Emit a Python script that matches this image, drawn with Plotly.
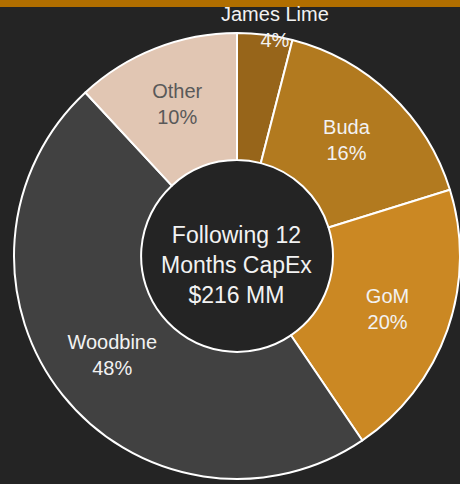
import plotly.graph_objects as go

# segmentos del capex (sentido horario desde las 12)
segments = ['James Lime', 'Buda', 'GoM', 'Woodbine', 'Other']
shares = [4.0, 16.2, 20.3, 47.6, 11.9]
pct_labels = ['4%', '16%', '20%', '48%', '10%']
colors = ['#97651a', '#b27a1f', '#cb8823', '#414141', '#e1c6b3']
text_colors = ['#f2f2f2', '#f2f2f2', '#f2f2f2', '#f2f2f2', '#595959']
center_lines = ['Following 12', 'Months CapEx', '$216 MM']

FONT = 'Arial, Liberation Sans, sans-serif'
BG = '#242424'

slice_text = [f'{s}<br>{p}' for s, p in zip(segments, pct_labels)]
# James Lime va como anotacion arriba, el trozo es muy chico
positions = ['none'] + ['inside'] * (len(segments) - 1)

fig = go.Figure()
fig.add_trace(go.Pie(
    labels=segments,
    values=shares,
    text=slice_text,
    textinfo='text',
    textposition=positions,
    insidetextorientation='horizontal',
    insidetextfont=dict(family=FONT, size=20, color=text_colors),
    sort=False,
    direction='clockwise',
    hole=0.43,
    marker=dict(colors=colors, line=dict(color='#ffffff', width=2)),
    showlegend=False,
    hoverinfo='label+percent',
))

fig.add_annotation(
    text=slice_text[0], x=0.585, y=1.006, xref='paper', yref='paper',
    xanchor='center', yanchor='middle', showarrow=False,
    font=dict(family=FONT, size=20, color=text_colors[0]),
)
fig.add_annotation(
    text='<br>'.join(center_lines), x=0.498, y=0.48, xref='paper', yref='paper',
    xanchor='center', yanchor='middle', showarrow=False,
    font=dict(family=FONT, size=23, color='#f2f2f2'),
)

# barra naranja de arriba
fig.add_shape(
    type='rect', xref='paper', yref='paper',
    xsizemode='pixel', ysizemode='pixel', xanchor=0, yanchor=1,
    x0=-14, x1=446, y0=23, y1=30,
    fillcolor='#b06e00', line=dict(width=0), layer='above',
)

fig.update_layout(
    width=460,
    height=484,
    margin=dict(l=14, r=0, t=30, b=2),
    paper_bgcolor=BG,
    plot_bgcolor=BG,
    font=dict(family=FONT),
)

# sin el margen blanco del body
fig.write_html('out.html', config={'displayModeBar': False},
               post_script="document.body.style.margin='0';")
